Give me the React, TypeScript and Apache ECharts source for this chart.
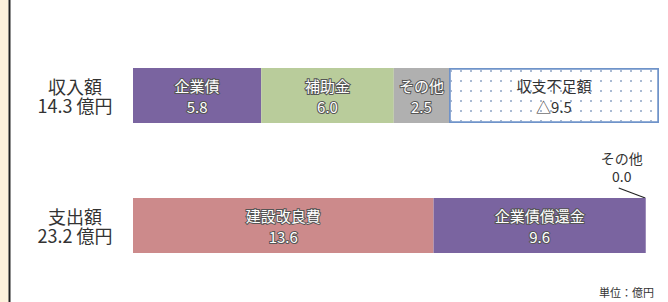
import React, { useEffect, useRef } from "react";
import * as echarts from "echarts";

const categories = ["支出額", "収入額"];
const categoryLabels = ["支出額\n23.2 億円", "収入額\n14.3 億円"];

const incomeNames = ["企業債", "補助金", "その他", "収支不足額"];
const incomeValues = [5.8, 6.0, 2.5, 9.5];
const incomeColors = ["#7A64A0", "#B9CC9B", "#B0B0B0", "#FFFFFF"];

const expenseNames = ["建設改良費", "企業債償還金", "その他"];
const expenseValues = [13.6, 9.6, 0.0];
const expenseColors = ["#CC8A8B", "#7A64A0", "#7A64A0"];

const unitText = "単位：億円";
const FONT = "'Noto Sans CJK JP', 'Noto Sans', sans-serif";
const BAR_W = 55;

export default function App() {
  const ref = useRef<HTMLDivElement>(null);
  useEffect(() => {
    if (!ref.current) return;
    const chart = echarts.init(ref.current, null, { renderer: "svg" });
    const whiteLabel = {
      show: true,
      position: "inside",
      color: "#FFFFFF",
      textBorderColor: "#555",
      textBorderWidth: 2,
      fontSize: 15,
      lineHeight: 21,
      fontFamily: FONT,
    };
    const series: any[] = [];
    incomeNames.forEach((n, i) => {
      const deficit = i === 3;
      series.push({
        type: "bar",
        name: n,
        stack: "total",
        barWidth: BAR_W,
        data: ["-", incomeValues[i]],
        itemStyle: deficit
          ? {
              color: "#FFFFFF",
              borderColor: "#6F93C9",
              borderWidth: 1.5,
              decal: {
                symbol: "rect",
                symbolSize: 1,
                dashArrayX: [1.5, 7.5],
                dashArrayY: [1.5, 7.5],
                color: "#A9BAD3",
                rotation: 0,
              },
            }
          : { color: incomeColors[i] },
        label: deficit
          ? {
              show: true,
              position: "inside",
              color: "#333",
              fontSize: 15,
              lineHeight: 21,
              fontFamily: FONT,
              formatter: (p: any) => `${n}\n△${Number(p.value).toFixed(1)}`,
            }
          : {
              ...whiteLabel,
              formatter: (p: any) => `${n}\n${Number(p.value).toFixed(1)}`,
            },
      });
    });
    expenseNames.forEach((n, i) => {
      const zero = i === 2;
      series.push({
        type: "bar",
        name: n + (zero ? " " : ""),
        stack: "total",
        barWidth: BAR_W,
        data: [expenseValues[i], "-"],
        itemStyle: { color: expenseColors[i] },
        label: zero
          ? {
              show: true,
              position: "top",
              distance: 0,
              color: "#333",
              fontSize: 14,
              lineHeight: 18,
              fontFamily: FONT,
              formatter: (p: any) => `${n}\n${Number(p.value).toFixed(1)}`,
            }
          : {
              ...whiteLabel,
              formatter: (p: any) => `${n}\n${Number(p.value).toFixed(1)}`,
            },
        labelLayout: zero ? { dx: -24, dy: -13 } : undefined,
      });
    });

    const baseGraphic: any[] = [
      {
        type: "rect",
        shape: { x: 0, y: 0, width: 8.5, height: 302 },
        style: { fill: "#FDF1DC" },
        silent: true,
      },
      {
        type: "line",
        shape: { x1: 9.5, y1: 0, x2: 9.5, y2: 302 },
        style: { stroke: "#222", lineWidth: 2 },
        silent: true,
      },
      {
        type: "text",
        right: 14,
        top: 286,
        style: {
          text: unitText,
          fill: "#333",
          fontSize: 11,
          fontFamily: FONT,
        },
      },
    ];

    chart.setOption({
      animation: false,
      backgroundColor: "#FFFFFF",
      grid: { left: 133, right: 9, top: 30.5, bottom: 11.5 },
      xAxis: {
        type: "value",
        min: 0,
        max: 23.8,
        show: false,
      },
      yAxis: {
        type: "category",
        data: categories,
        axisLine: { show: false },
        axisTick: { show: false },
        axisLabel: {
          margin: 58,
          align: "center",
          color: "#333",
          fontSize: 18,
          lineHeight: 19,
          padding: [7, 0, 0, 0],
          fontFamily: FONT,
          formatter: (v: string) => categoryLabels[categories.indexOf(v)],
        },
      },
      graphic: baseGraphic,
      series,
    });

    // leader line for the zero-width "その他" expense segment
    const total = expenseValues.reduce((a, b) => a + b, 0);
    const pt = chart.convertToPixel({ gridIndex: 0 }, [total, categories[0]]) as number[];
    if (pt) {
      const topY = pt[1] - BAR_W / 2;
      chart.setOption({
        graphic: [
          ...baseGraphic,
          {
            type: "line",
            shape: { x1: pt[0] - 27, y1: topY - 10, x2: pt[0] - 0.5, y2: topY },
            style: { stroke: "#222", lineWidth: 1.2 },
            silent: true,
          },
        ],
      });
    }
    return () => chart.dispose();
  }, []);
  return (
    <div
      ref={ref}
      style={{ position: "fixed", left: 0, top: 0, width: 668, height: 302 }}
    />
  );
}
